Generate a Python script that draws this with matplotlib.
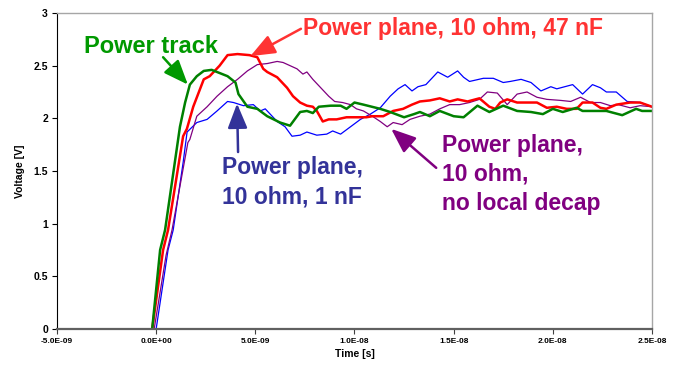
import numpy as np
import matplotlib
matplotlib.use('Agg')
import matplotlib.pyplot as plt

plt.rcParams['font.family'] = ['Liberation Sans', 'DejaVu Sans']

# Step responses, time in ns, voltage in V
t_track = [-0.2, 0.2, 0.45, 1.2, 1.46, 1.7, 2.05, 2.4, 2.8, 3.6, 4.0, 4.15, 4.6, 5.1, 5.6, 6.25,
           6.75, 7.26, 7.6, 7.9, 8.2, 8.8, 9.3, 9.6, 10.0, 10.45, 11.3, 11.8, 12.5, 13.0, 13.3,
           13.8, 14.3, 15.0, 15.5, 16.2, 16.8, 17.5, 18.2, 18.9, 19.5, 20.0, 20.5, 21.2, 21.5,
           22.0, 22.7, 23.5, 24.2, 24.5, 25.0]
v_track = [0.0, 0.75, 0.94, 1.92, 2.15, 2.32, 2.40, 2.45, 2.46, 2.40, 2.34, 2.23, 2.11, 2.09, 2.02, 1.96,
           1.93, 2.06, 2.07, 2.05, 2.11, 2.12, 2.12, 2.09, 2.15, 2.13, 2.09, 2.06, 2.01, 2.04, 2.06,
           2.02, 2.07, 2.02, 2.01, 2.12, 2.06, 2.12, 2.07, 2.06, 2.04, 2.09, 2.06, 2.10, 2.07,
           2.07, 2.07, 2.03, 2.09, 2.07, 2.07]

t_47n = [-0.2, 0.35, 0.6, 1.36, 1.55, 1.87, 2.4, 2.7, 3.2, 3.6, 4.1, 4.7, 5.1, 5.4, 5.6, 6.1, 6.6,
         6.9, 7.26, 7.6, 7.9, 8.1, 8.4, 8.7, 9.1, 9.6, 10.1, 10.6, 10.9, 11.45, 11.95, 12.45, 12.9,
         13.3, 13.8, 14.3, 14.8, 15.2, 15.7, 16.3, 16.8, 17.1, 17.35, 17.7, 18.2, 18.7, 19.2, 19.7,
         20.2, 20.7, 21.2, 21.5, 22.0, 22.4, 22.7, 23.2, 23.9, 24.4, 25.0]
v_47n = [0.0, 0.75, 0.94, 1.83, 1.90, 2.11, 2.37, 2.40, 2.50, 2.60, 2.61, 2.60, 2.58, 2.47, 2.44, 2.39, 2.29,
         2.21, 2.15, 2.12, 2.11, 2.07, 1.97, 1.99, 1.99, 2.01, 2.01, 2.01, 2.02, 2.02, 2.07, 2.09, 2.13,
         2.16, 2.17, 2.19, 2.16, 2.18, 2.16, 2.19, 2.11, 2.09, 2.15, 2.18, 2.15, 2.15, 2.15, 2.10,
         2.11, 2.09, 2.09, 2.15, 2.15, 2.10, 2.09, 2.13, 2.15, 2.15, 2.11]

t_1n = [0.0, 0.6, 0.86, 1.36, 1.56, 2.05, 2.57, 3.07, 3.6, 3.9, 4.4, 4.9, 5.25, 5.5, 6.1, 6.5,
        6.85, 7.26, 7.6, 8.1, 8.6, 8.9, 9.3, 9.8, 10.3, 10.8, 11.3, 11.8, 12.2, 12.55, 12.9, 13.2,
        13.6, 14.2, 14.7, 15.2, 15.5, 15.8, 16.5, 17.0, 17.5, 17.85, 18.4, 18.9, 19.4, 19.9,
        20.2, 21.0, 21.5, 22.0, 22.4, 22.7, 23.2, 23.75, 24.4, 25.0]
v_1n = [0.0, 0.75, 0.94, 1.58, 1.87, 1.96, 1.99, 2.07, 2.16, 2.15, 2.12, 2.13, 2.07, 2.09, 1.97, 1.92,
        1.83, 1.84, 1.87, 1.84, 1.85, 1.88, 1.85, 1.92, 1.99, 2.04, 2.10, 2.21, 2.28, 2.32, 2.26, 2.30,
        2.32, 2.44, 2.39, 2.45, 2.39, 2.35, 2.38, 2.38, 2.34, 2.35, 2.37, 2.34, 2.26, 2.30,
        2.28, 2.32, 2.23, 2.32, 2.29, 2.25, 2.25, 2.16, 2.15, 2.11]

t_nodecap = [-0.1, 0.5, 0.8, 1.6, 1.7, 2.05, 2.57, 3.07, 3.6, 4.1, 4.6, 5.1, 5.6, 6.1, 6.4, 6.75,
             7.1, 7.4, 7.6, 7.9, 8.3, 8.7, 9.0, 9.4, 9.8, 10.1, 10.45, 10.9, 11.3, 11.65, 11.95,
             12.4, 12.8, 13.3, 13.8, 14.3, 14.8, 15.3, 15.8, 16.3, 16.7, 17.2, 17.7, 18.2, 18.7,
             19.2, 19.7, 20.4, 20.9, 21.4, 21.9, 22.4, 22.9, 23.3, 23.9, 24.4, 25.0]
v_nodecap = [0.0, 0.70, 0.94, 1.77, 1.80, 2.02, 2.11, 2.21, 2.30, 2.37, 2.45, 2.51, 2.52, 2.54, 2.53, 2.50,
             2.47, 2.42, 2.44, 2.37, 2.29, 2.21, 2.16, 2.15, 2.13, 2.09, 2.07, 2.02, 1.97, 1.92, 1.96,
             1.94, 1.99, 2.02, 2.04, 2.09, 2.13, 2.13, 2.15, 2.18, 2.25, 2.24, 2.13, 2.23, 2.25,
             2.20, 2.18, 2.17, 2.16, 2.20, 2.15, 2.15, 2.12, 2.13, 2.10, 2.12, 2.11]

x_ticks = [-5e-9, 0.0, 5e-9, 1e-8, 1.5e-8, 2e-8, 2.5e-8]
x_tick_labels = ['-5.0E-09', '0.0E+00', '5.0E-09', '1.0E-08', '1.5E-08', '2.0E-08', '2.5E-08']
y_ticks = [0, 0.5, 1, 1.5, 2, 2.5, 3]
y_tick_labels = ['0', '0.5', '1', '1.5', '2', '2.5', '3']

ns = 1e-9

fig = plt.figure(figsize=(6.8, 3.71), dpi=100)
ax = fig.add_axes([0.0838, 0.1132, 0.875, 0.8518])

ax.plot(np.array(t_1n) * ns, v_1n, color='#0000ff', lw=0.9)
ax.plot(np.array(t_nodecap) * ns, v_nodecap, color='#800080', lw=0.9)
ax.plot(np.array(t_47n) * ns, v_47n, color='#ff0000', lw=1.8)
ax.plot(np.array(t_track) * ns, v_track, color='#008000', lw=1.8)

ax.set_xlim(-5e-9, 2.5e-8)
ax.set_ylim(0, 3)
ax.set_xticks(x_ticks)
ax.set_xticklabels(x_tick_labels, fontsize=6, fontweight='bold')
ax.set_yticks(y_ticks)
ax.set_yticklabels(y_tick_labels, fontsize=7.5, fontweight='bold')
ax.tick_params(axis='both', direction='out', length=3.5, width=0.8, pad=3)
ax.tick_params(axis='x', colors='#404040', labelcolor='black')
ax.set_xlabel('Time [s]', fontsize=7.5, fontweight='bold', labelpad=3)
ax.set_ylabel('Voltage [V]', fontsize=7.5, fontweight='bold', labelpad=6)

ax.spines['left'].set_color('black')
ax.spines['left'].set_linewidth(0.8)
ax.spines['bottom'].set_color('#606060')
ax.spines['bottom'].set_linewidth(1.6)
for side in ('top', 'right'):
    ax.spines[side].set_color('#a6a6a6')
    ax.spines[side].set_linewidth(1.0)

# Callouts: label text plus a separate arrow (tail -> tip), both in data coords
label_kw = dict(fontweight='bold', va='center', ha='left', linespacing=1.35)
callouts = [
    ('Power track', '#009900', 17, (-3.65e-9, 2.68), (0.35e-9, 2.58), (1.6e-9, 2.32)),
    ('Power plane, 10 ohm, 47 nF', '#ff3333', 16.5, (7.4e-9, 2.85), (7.3e-9, 2.85), (4.75e-9, 2.59)),
    ('Power plane,\n10 ohm, 1 nF', '#333399', 16.5, (3.3e-9, 1.395), (4.13e-9, 1.68), (4.08e-9, 2.14)),
    ('Power plane,\n10 ohm,\nno local decap', '#800080', 16.5, (1.44e-8, 1.467), (1.412e-8, 1.53), (1.185e-8, 1.90)),
]
for text, color, size, pos, tail, tip in callouts:
    ax.text(pos[0], pos[1], text, color=color, fontsize=size, **label_kw)
    ax.annotate('', xy=tip, xytext=tail,
                arrowprops=dict(arrowstyle='-|>,head_length=1.5,head_width=0.6',
                                color=color, lw=1.8, shrinkA=0, shrinkB=0,
                                mutation_scale=10))

fig.savefig('out.png', dpi=100)
